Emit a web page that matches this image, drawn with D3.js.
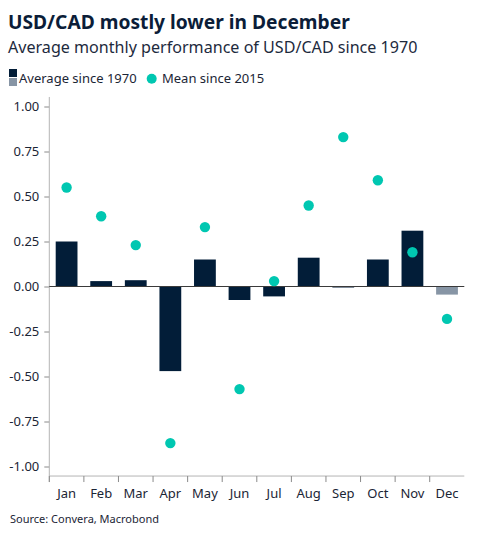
<!DOCTYPE html>
<html>
<head>
<meta charset="utf-8">
<script src="https://cdn.jsdelivr.net/npm/d3@7"></script>
<style>
  body { margin: 0; background: #fff; }
  svg { font-family: "Noto Sans", "Open Sans", sans-serif; }
</style>
</head>
<body>
<div id="chart"></div>
<script>
// Data
const months = ['Jan', 'Feb', 'Mar', 'Apr', 'May', 'Jun', 'Jul', 'Aug', 'Sep', 'Oct', 'Nov', 'Dec']
const avgSince1970 = [0.25, 0.03, 0.035, -0.47, 0.15, -0.075, -0.055, 0.16, -0.005, 0.15, 0.31, -0.045]
const meanSince2015 = [0.55, 0.39, 0.23, -0.87, 0.33, -0.57, 0.03, 0.45, 0.83, 0.59, 0.19, -0.18]
const yTicks = [1, 0.75, 0.5, 0.25, 0, -0.25, -0.5, -0.75, -1]

const width = 482,
  height = 539
const navy = '#021d38',
  grey = '#8795a5',
  teal = '#00c7b1',
  axisGrey = '#b4b4b4',
  textCol = '#1b2535'

let svg = d3.select('#chart')
  .append('svg')
  .attr('width', width)
  .attr('height', height)

// Header
svg.append('text')
  .attr('x', 8).attr('y', 29)
  .attr('font-size', 19.2).attr('font-weight', 700)
  .attr('fill', '#0b1d38')
  .text('USD/CAD mostly lower in December')
svg.append('text')
  .attr('x', 8).attr('y', 53)
  .attr('font-size', 16.1)
  .attr('fill', '#1d2a3d')
  .text('Average monthly performance of USD/CAD since 1970')

// Legend
svg.append('rect').attr('x', 9).attr('y', 69).attr('width', 8).attr('height', 8).attr('fill', navy)
svg.append('rect').attr('x', 9).attr('y', 78).attr('width', 8).attr('height', 8).attr('fill', grey)
svg.append('text').attr('x', 19).attr('y', 83).attr('font-size', 13).attr('fill', textCol).text('Average since 1970')
svg.append('circle').attr('cx', 151.7).attr('cy', 78.7).attr('r', 5).attr('fill', teal)
svg.append('text').attr('x', 162).attr('y', 83).attr('font-size', 13).attr('fill', textCol).text('Mean since 2015')

// Scales
const x = d3.scaleBand()
  .domain(months)
  .range([49.3, 464.3])
  .paddingInner(0)

const y = d3.scaleLinear()
  .domain([-1, 1])
  .range([466.5, 106.5])

const plotTop = y(1.053),
  plotBottom = y(-1.053)

// Y axis
const yAxis = svg.append('g')
  .attr('transform', `translate(${x.range()[0]},0)`)
  .call(d3.axisLeft(y).tickValues(yTicks).tickFormat(d3.format('.2f')).tickSize(5).tickPadding(5))
yAxis.select('.domain').remove()
yAxis.selectAll('line').attr('stroke', '#8a8a8a')
yAxis.selectAll('text')
  .attr('font-size', 13)
  .attr('fill', textCol)
  .attr('font-family', '"Noto Sans", sans-serif')
  .text(d => d < 0 ? '-' + d3.format('.2f')(-d) : d3.format('.2f')(d))
yAxis.append('line')
  .attr('x1', 0).attr('x2', 0)
  .attr('y1', plotTop).attr('y2', plotBottom + 6)
  .attr('stroke', axisGrey)

// X axis at the bottom
svg.append('line')
  .attr('x1', x.range()[0]).attr('x2', x.range()[1])
  .attr('y1', plotBottom).attr('y2', plotBottom)
  .attr('stroke', axisGrey)
svg.selectAll('.xtick')
  .data(months)
  .enter()
  .append('line')
  .attr('class', 'xtick')
  .attr('x1', d => x(d)).attr('x2', d => x(d))
  .attr('y1', plotBottom).attr('y2', plotBottom + 6)
  .attr('stroke', '#8a8a8a')
svg.selectAll('.xlabel')
  .data(months)
  .enter()
  .append('text')
  .attr('class', 'xlabel')
  .attr('x', d => x(d) + x.bandwidth() / 2)
  .attr('y', 497.5)
  .attr('text-anchor', 'middle')
  .attr('font-size', 13)
  .attr('fill', textCol)
  .text(d => d)

// Bars
const barW = x.bandwidth() * 0.63
svg.selectAll('.bar')
  .data(avgSince1970)
  .enter()
  .append('rect')
  .attr('class', 'bar')
  .attr('x', (d, i) => x(months[i]) + (x.bandwidth() - barW) / 2)
  .attr('y', d => y(Math.max(d, 0)))
  .attr('width', barW)
  .attr('height', d => Math.max(Math.abs(y(d) - y(0)), 1))
  .attr('fill', (d, i) => i === months.length - 1 ? grey : navy)

// Zero line
svg.append('line')
  .attr('x1', x.range()[0]).attr('x2', x.range()[1])
  .attr('y1', y(0)).attr('y2', y(0))
  .attr('stroke', '#3a3a3a')
  .attr('stroke-width', 1)

// Dots
svg.selectAll('.dot')
  .data(meanSince2015)
  .enter()
  .append('circle')
  .attr('class', 'dot')
  .attr('cx', (d, i) => x(months[i]) + x.bandwidth() / 2)
  .attr('cy', d => y(d))
  .attr('r', 5.2)
  .attr('fill', teal)

// Source
svg.append('text')
  .attr('x', 10).attr('y', 523)
  .attr('font-size', 11)
  .attr('fill', textCol)
  .text('Source: Convera, Macrobond')
</script>
</body>
</html>
